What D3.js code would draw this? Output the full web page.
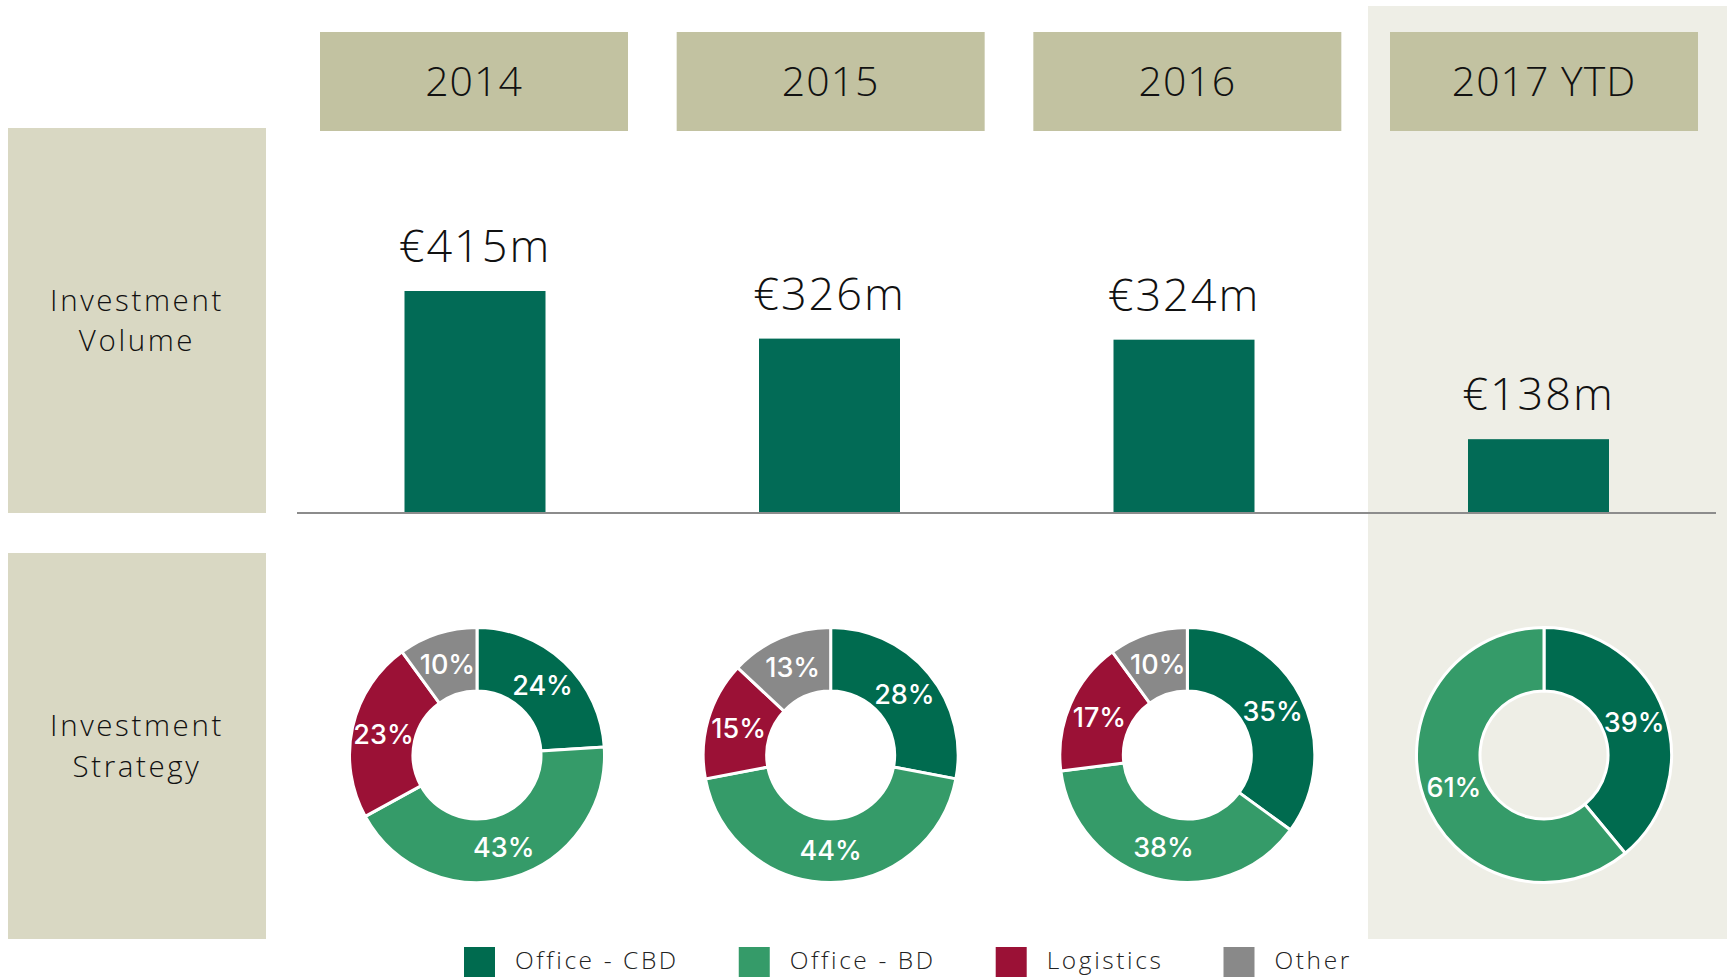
<!DOCTYPE html>
<html>
<head>
<meta charset="utf-8">
<script src="https://cdn.jsdelivr.net/npm/d3@7"></script>
<style>
  html, body { margin: 0; padding: 0; background: #ffffff; }
  svg { display: block; }
  text { font-family: "Open Sans", Inter, "Noto Sans", sans-serif; }
  text.lbl { font-family: Inter, "Open Sans", sans-serif; }
</style>
</head>
<body>
<svg id="chart" width="1734" height="977"></svg>
<script>
// ---- data ----
const years = ["2014", "2015", "2016", "2017 YTD"];
const volumes = [415, 326, 324, 138];           // € millions
const segments = ["Office - CBD", "Office - BD", "Logistics", "Other"];
const officeCBD = [24, 28, 35, 39];
const officeBD  = [43, 44, 38, 61];
const logistics = [23, 15, 17, 0];
const other     = [10, 13, 10, 0];
const rowLabelVolume = ["Investment", "Volume"];
const rowLabelStrategy = ["Investment", "Strategy"];

// ---- styling ----
const colors = ["#006B4F", "#359B69", "#9B1136", "#898989"];
const barColor = "#026B56";
const headerFill = "#C2C2A1";
const rowFill = "#D9D8C3";
const highlightFill = "#EEEEE6";

const svg = d3.select("#chart");

// column scales
const xCol = d3.scalePoint().domain(years).range([474, 1544]);
const xBar = d3.scalePoint().domain(years).range([475, 1538.5]);
const y = d3.scaleLinear().domain([0, 415]).range([513, 291]);
const color = d3.scaleOrdinal().domain(segments).range(colors);

// highlight column for last year
const lastYear = years[years.length - 1];
svg.append("rect")
  .attr("x", xCol(lastYear) - 176).attr("y", 6)
  .attr("width", 359).attr("height", 933)
  .attr("fill", highlightFill);

// row label boxes
const rows = [
  { lines: rowLabelVolume, y0: 128, y1: 513 },
  { lines: rowLabelStrategy, y0: 553, y1: 939 }
];
rows.forEach(r => {
  svg.append("rect").attr("x", 8).attr("y", r.y0)
    .attr("width", 258).attr("height", r.y1 - r.y0).attr("fill", rowFill);
  const cy = (r.y0 + r.y1) / 2;
  r.lines.forEach((ln, i) => {
    svg.append("text").attr("x", 137).attr("text-anchor", "middle")
      .attr("font-size", 29.5).attr("font-weight", 300).attr("fill", "#111")
      .attr("letter-spacing", 2.6)
      .attr("y", cy + (i - (r.lines.length - 1) / 2) * 40.5)
      .attr("dy", "0.35em").text(ln);
  });
});

// year header boxes
const hdr = svg.append("g").selectAll("g").data(years).join("g");
hdr.append("rect")
  .attr("x", d => xCol(d) - 154).attr("y", 32)
  .attr("width", 308).attr("height", 99).attr("fill", headerFill);
hdr.append("text")
  .attr("x", d => xCol(d)).attr("y", 82).attr("dy", "0.35em")
  .attr("text-anchor", "middle").attr("font-size", 41).attr("font-weight", 300)
  .attr("letter-spacing", 1)
  .attr("fill", "#111").text(d => d);

// bars
const barW = 141;
svg.append("g").selectAll("rect").data(volumes).join("rect")
  .attr("x", (d, i) => xBar(years[i]) - barW / 2)
  .attr("y", d => y(d))
  .attr("width", barW)
  .attr("height", d => y(0) - y(d))
  .attr("fill", barColor);

// axis baseline
svg.append("line")
  .attr("x1", 297).attr("x2", 1716)
  .attr("y1", y(0)).attr("y2", y(0))
  .attr("stroke", "#8C8C8C").attr("stroke-width", 2);

// value labels
svg.append("g").selectAll("text").data(volumes).join("text")
  .attr("x", (d, i) => xBar(years[i]))
  .attr("y", d => y(d) - 29)
  .attr("text-anchor", "middle").attr("font-size", 45).attr("font-weight", 300)
  .attr("letter-spacing", 2)
  .attr("fill", "#111")
  .text(d => "€" + d + "m");

// donuts
const series = [officeCBD, officeBD, logistics, other];
const pie = d3.pie().sort(null).value(d => d.v);
const rIn = 64, rOut = 127.5;
const arc = d3.arc().innerRadius(rIn).outerRadius(rOut);
const labelArc = d3.arc().innerRadius((rIn + rOut) / 2).outerRadius((rIn + rOut) / 2);

years.forEach((yr, i) => {
  const data = segments.map((s, k) => ({ seg: s, v: series[k][i] })).filter(d => d.v > 0);
  const g = svg.append("g").attr("transform", `translate(${xCol(yr) + (i === 0 ? 3 : 0)},755)`);
  const arcs = pie(data);
  g.selectAll("path").data(arcs).join("path")
    .attr("d", arc)
    .attr("fill", d => color(d.data.seg))
    .attr("stroke", "#fff").attr("stroke-width", 3).attr("stroke-linejoin", "miter");
  g.selectAll("text").data(arcs).join("text")
    .attr("class", "lbl")
    .attr("transform", d => `translate(${labelArc.centroid(d)})`)
    .attr("dy", "0.36em")
    .attr("text-anchor", "middle")
    .attr("font-size", 27).attr("font-weight", 500).attr("fill", "#fff")
    .text(d => d.data.v + "%");
});

// legend
const leg = svg.append("g");
let lx = 464;
segments.forEach(s => {
  leg.append("rect").attr("x", lx).attr("y", 947).attr("width", 31).attr("height", 31)
    .attr("fill", color(s));
  const t = leg.append("text").attr("x", lx + 51).attr("y", 969)
    .attr("font-size", 24.5).attr("font-weight", 300).attr("fill", "#222")
    .attr("letter-spacing", 2.6).text(s);
  lx = lx + 51 + t.node().getComputedTextLength() + 60;
});
</script>
</body>
</html>
